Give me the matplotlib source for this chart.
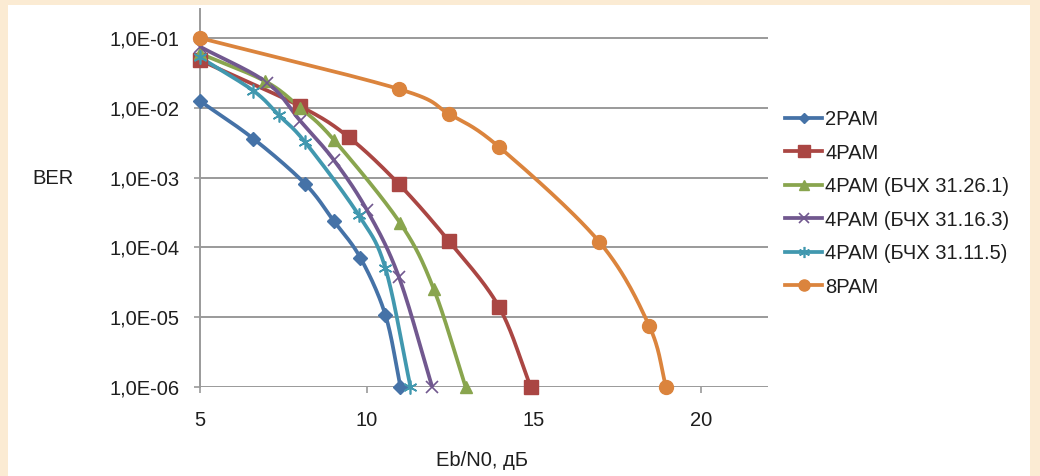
import numpy as np
import matplotlib
matplotlib.use("Agg")
import matplotlib.pyplot as plt
from matplotlib.patches import Rectangle
from matplotlib.ticker import FixedLocator, NullLocator, FixedFormatter

plt.rcParams['font.family'] = ['Liberation Sans', 'DejaVu Sans']

# ---- data ----
x_2pam = [5, 6.6, 8.15, 9.0, 9.8, 10.55, 11.0]
y_2pam = [1.25e-2, 3.6e-3, 8.1e-4, 2.4e-4, 7.1e-5, 1.07e-5, 1e-6]

x_4pam = [5, 8.0, 9.45, 10.95, 12.45, 13.95, 14.9]
y_4pam = [4.8e-2, 1.05e-2, 3.8e-3, 8.1e-4, 1.23e-4, 1.4e-5, 1e-6]

x_bch26 = [5, 6.95, 8.0, 9.0, 11.0, 12.0, 12.95]
y_bch26 = [6.0e-2, 2.4e-2, 1.0e-2, 3.5e-3, 2.2e-4, 2.5e-5, 1e-6]

x_bch16 = [5, 7.0, 8.0, 9.0, 10.0, 10.95, 11.95]
y_bch16 = [7.5e-2, 2.3e-2, 6.5e-3, 1.8e-3, 3.4e-4, 3.8e-5, 1e-6]

x_bch11 = [5, 6.6, 7.35, 8.15, 9.75, 10.55, 11.3]
y_bch11 = [5.3e-2, 1.75e-2, 7.9e-3, 3.2e-3, 2.9e-4, 5.0e-5, 1e-6]

x_8pam = [5, 10.95, 12.45, 13.95, 16.95, 18.45, 18.95]
y_8pam = [1.0e-1, 1.86e-2, 8.2e-3, 2.75e-3, 1.2e-4, 7.4e-6, 1e-6]

labels = ["2PAM", "4PAM", "4PAM (БЧХ 31.26.1)", "4PAM (БЧХ 31.16.3)",
          "4PAM (БЧХ 31.11.5)", "8PAM"]
y_ticks = [1e-1, 1e-2, 1e-3, 1e-4, 1e-5, 1e-6]
y_tick_labels = ["1,0E-01", "1,0E-02", "1,0E-03", "1,0E-04", "1,0E-05", "1,0E-06"]
x_ticks = [5, 10, 15, 20]

series = [(x_2pam, y_2pam), (x_4pam, y_4pam), (x_bch26, y_bch26),
          (x_bch16, y_bch16), (x_bch11, y_bch11), (x_8pam, y_8pam)]
colors = ["#4572A7", "#AA4643", "#89A54E", "#71588F", "#4198AF", "#DB843D"]
markers = ["D", "s", "^", "x", (6, 2, 0), "o"]
msizes = [7, 10, 9, 9, 10, 10]
mews = [1, 1, 1, 1.2, 1.2, 1]

FS = 14.5
TXT = "#1e1e1e"


def smooth(xs, ys, n=30):
    """Catmull-Rom spline through points in (x, log10 y) space."""
    px = np.asarray(xs, float)
    py = np.log10(np.asarray(ys, float))
    P = np.column_stack([px, py])
    P = np.vstack([P[0] - (P[1] - P[0]), P, P[-1] + (P[-1] - P[-2])])
    out = []
    for i in range(1, len(P) - 2):
        p0, p1, p2, p3 = P[i - 1], P[i], P[i + 1], P[i + 2]
        t = np.linspace(0, 1, n)[:, None]
        seg = 0.5 * ((2 * p1) + (-p0 + p2) * t + (2 * p0 - 5 * p1 + 4 * p2 - p3) * t ** 2
                     + (-p0 + 3 * p1 - 3 * p2 + p3) * t ** 3)
        out.append(seg if i == 1 else seg[1:])
    S = np.vstack(out)
    return S[:, 0], 10 ** S[:, 1]


W, H = 1040, 476
fig = plt.figure(figsize=(W / 100, H / 100), dpi=100, facecolor="#FBEBD3")
fig.patches.append(Rectangle((8 / W, 0), (1030 - 8) / W, (H - 5) / H,
                             transform=fig.transFigure, facecolor="white",
                             edgecolor="none", zorder=-10))

ax = fig.add_axes([200 / W, (H - 387) / H, (768 - 200) / W, (387 - 9) / H])
ax.set_zorder(1)
ax.set_facecolor("white")
ax.set_yscale("log")
ax.set_xlim(5, 22)
top = 10 ** (-1 + (38 - 9) / 69.8)
ax.set_ylim(1e-6, top)

for (xs, ys), c, m, ms, mew, lab in zip(series, colors, markers, msizes, mews, labels):
    sx, sy = smooth(xs, ys)
    ax.plot(sx, sy, color=c, lw=2.7, zorder=3, solid_capstyle="round")
    ax.plot(xs, ys, linestyle="none", marker=m, markersize=ms, color=c,
            markeredgecolor=c, markeredgewidth=mew, zorder=4, clip_on=False)
    ax.plot([], [], color=c, lw=2.7, marker=m, markersize=ms * 0.8,
            markeredgewidth=mew, markeredgecolor=c, label=lab)

ax.yaxis.set_major_locator(FixedLocator(y_ticks))
ax.yaxis.set_major_formatter(FixedFormatter(y_tick_labels))
ax.yaxis.set_minor_locator(NullLocator())
ax.set_xticks(x_ticks)
ax.set_xticklabels([str(v) for v in x_ticks])

ax.grid(axis="y", color="#9a9a9a", lw=1.4, zorder=1)
ax.grid(axis="x", visible=False)
for s in ["top", "right", "bottom"]:
    ax.spines[s].set_visible(False)
ax.spines["left"].set_color("#9a9a9a")
ax.spines["left"].set_linewidth(1.4)
ax.tick_params(axis="both", colors="#9a9a9a", width=1.2, length=4.5, direction="out",
               labelcolor=TXT, labelsize=FS)
ax.tick_params(axis="y", pad=10.5)
ax.tick_params(axis="x", pad=12.5)

fig.text(53 / W, 1 - 179 / H, "BER", ha="center", va="center", fontsize=FS,
         color=TXT)
fig.text(482 / W, 1 - 460 / H, "Eb/N0, дБ", ha="center", va="center", fontsize=FS,
         color=TXT)

leg = ax.legend(loc="upper left", bbox_to_anchor=(785 / W, 1 - 110 / H),
                bbox_transform=fig.transFigure, frameon=False, fontsize=FS,
                handlelength=1.85, handletextpad=0.15, labelspacing=0.72,
                borderaxespad=0, borderpad=0)
for t in leg.get_texts():
    t.set_color(TXT)

fig.savefig("out.png", dpi=100, facecolor=fig.get_facecolor())
